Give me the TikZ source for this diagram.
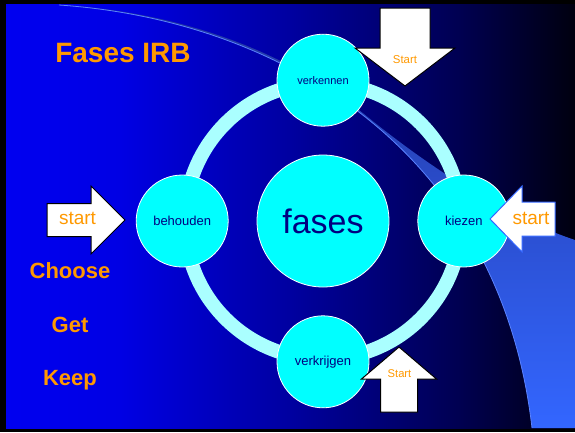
\documentclass[tikz,border=0pt]{standalone}
\usepackage{fontspec}
\setmainfont{Liberation Sans}
\usetikzlibrary{positioning}
\definecolor{irbblue}{RGB}{0,0,240}
\definecolor{irbblue2}{RGB}{0,0,228}
\definecolor{irbmid}{RGB}{0,0,160}
\definecolor{irbmid2}{RGB}{0,0,80}
\definecolor{irbdark}{RGB}{0,0,15}
\definecolor{irborange}{RGB}{255,153,0}
\definecolor{irbnavy}{RGB}{0,0,128}
\definecolor{irbcyan}{RGB}{0,255,255}
\definecolor{irbring}{RGB}{170,255,255}
\definecolor{irbswoosh}{RGB}{51,102,255}
\definecolor{irbswooshtop}{RGB}{35,55,160}
\definecolor{irbedge}{RGB}{90,130,255}
\pgfdeclarehorizontalshading{irbback}{100bp}{color(0bp)=(irbblue); color(25bp)=(irbblue);
  color(35bp)=(irbblue2); color(50bp)=(irbmid); color(65bp)=(irbmid2); color(75bp)=(irbdark);
  color(100bp)=(irbdark)}
\tikzset{
  phase/.style={circle, draw=white, line width=0.8pt, fill=irbcyan, text=irbnavy,
    inner sep=0pt, minimum size=#1, font=\fontsize{13}{15}\selectfont},
  phase/.default=92pt,
  ring/.style={draw=irbring, line width=14pt},
  motto/.style={text=irborange, anchor=base, font=\bfseries\fontsize{22}{24}\selectfont},
  starttext/.style={text=irborange, anchor=base, font=\fontsize{#1}{#1}\selectfont},
  pics/blockarrow/.style n args={4}{
    code = {
        \draw [line width=1pt, fill=white, line join=miter]
            (0,0) -- (-#4,#3) -- (-#4,#1) -- (-#4-#2,#1) -- (-#4-#2,-#1) -- (-#4,-#1) -- (-#4,-#3) -- cycle;
    }
  }
}

\begin{document}
\begin{tikzpicture}[x=1pt, y=-1pt]
    \useasboundingbox (0,0) rectangle (575,432);
    % frame and background
    \fill [black] (0,0) rectangle (575,432);
    \shade [shading=irbback] (6,4) rectangle (575,428);

    % swoosh
    \shade [top color=irbswooshtop, middle color=irbswoosh, bottom color=irbswoosh]
        (59,5) .. controls (169.5,11) and (279.75,46) .. (364,114)
        .. controls (420,160) and (500,215) .. (575,240) -- (575,428) -- (532,428)
        .. controls (516,289) and (453,187) .. (366.4,117.9)
        .. controls (279.75,48.75) and (169.5,12.5) .. (59,5) -- cycle;
    \draw [irbedge, line width=0.8pt] (59,5) .. controls (280,20) and (500,150) .. (532,428);

    \coordinate (hub) at (323,221);
    \draw [ring] (hub) circle [radius=138];

    \node [phase=132pt, font=\fontsize{34}{36}\selectfont] (fases) at (hub) {fases};
    \node [phase, font=\fontsize{11}{13}\selectfont] (verkennen) [above=28pt of fases] {verkennen};
    \node [phase] (kiezen) [right=28pt of fases] {kiezen};
    \node [phase] (verkrijgen) [below=28pt of fases] {verkrijgen};
    \node [phase] (behouden) [left=28pt of fases] {behouden};

    % arrows
    \draw pic [rotate=-90] at (405,86) {blockarrow={25}{40}{50}{38}};
    \draw pic at (125,220) {blockarrow={16.5}{44}{34}{34}};
    \draw pic [rotate=180, color=irbswoosh] at (490,219) {blockarrow={17}{33}{33}{32}};
    \draw pic [rotate=90] at (399,347) {blockarrow={18.5}{33}{37.5}{32}};

    \node [starttext=11.4] (starttop) at (405,63) {Start};
    \node [starttext=19] (startleft) at (77.5,224) {start};
    \node [starttext=19] (startright) at (531,224) {start};
    \node [starttext=11.2] (startbottom) at (399.5,377) {Start};

    % texts
    \node [motto, font=\bfseries\fontsize{28}{30}\selectfont] (title) at (123,62) {Fases IRB};
    \node [motto] (choose) at (70,278) {Choose};
    \node [motto] (get) at (70,332) {Get};
    \node [motto] (keep) at (70,385) {Keep};
\end{tikzpicture}
\end{document}
